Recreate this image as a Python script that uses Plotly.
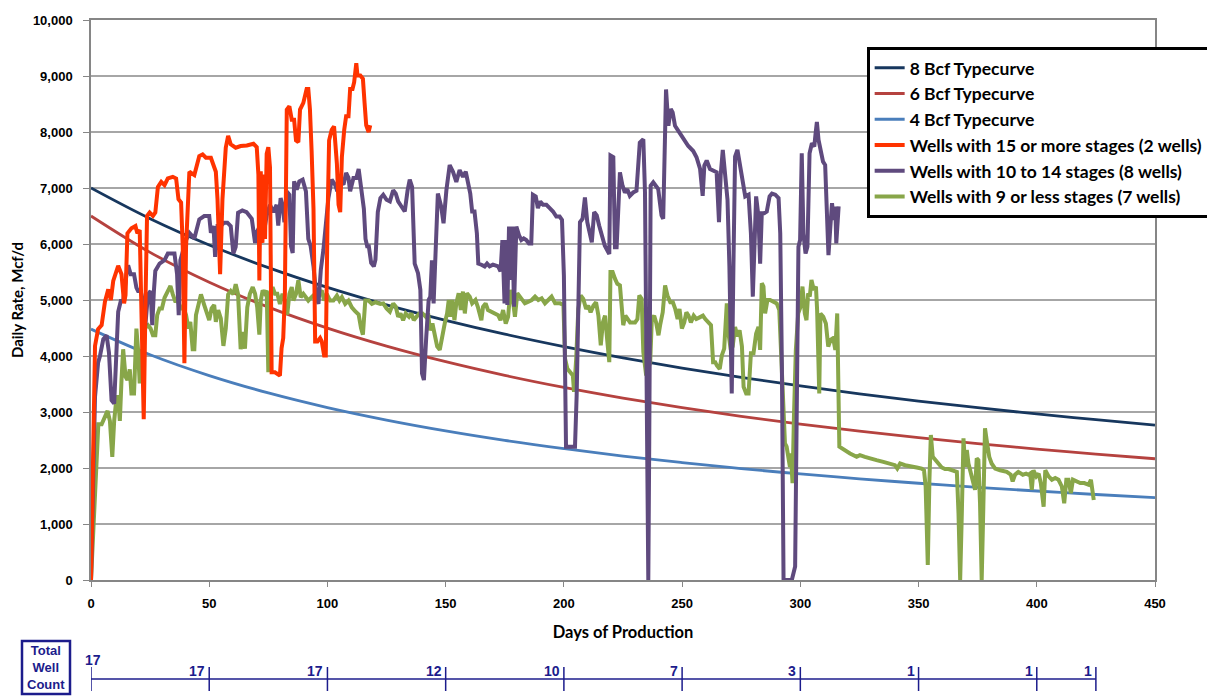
import plotly.graph_objects as go

# ---------------- data ----------------
tc_days = [0, 25, 50, 75, 100, 125, 150, 175, 200, 225, 250, 275, 300, 325, 350, 375, 400, 425, 450]
tc_8bcf = [7000, 6452, 5983, 5578, 5224, 4912, 4636, 4389, 4167, 3966, 3784, 3618, 3465, 3325, 3196, 3077, 2966, 2863, 2767]
tc_6bcf = [6500, 5850, 5317, 4873, 4498, 4177, 3898, 3654, 3439, 3248, 3077, 2923, 2784, 2657, 2542, 2435, 2338, 2248, 2165]
tc_4bcf = [4480, 4022, 3650, 3340, 3079, 2856, 2663, 2494, 2346, 2214, 2096, 1990, 1894, 1807, 1728, 1655, 1589, 1527, 1470]

red_days = [0, 1.7, 3, 4.5, 5.9, 7.3, 8.4, 9.4, 11.5, 12.9, 14, 14.6, 15.4, 17.1, 18.8, 19.6, 20.6, 21.3, 22.3, 23.1,
            23.7, 24.8, 26.2, 27.2, 28.3, 29.7, 31.1, 32.5, 34.6, 36, 37, 38.1, 38.8, 39.5, 40.2, 41.6, 43.7, 45.8,
            47.2, 48.6, 50.7, 52.8, 53.5, 54.6, 55.6, 57, 58, 59.1, 61.2, 63.3, 65.9, 68.7, 70.1, 70.8, 71.2, 71.8,
            72.5, 73.2, 73.6, 74.3, 75, 75.7, 76.4, 77.8, 79.2, 79.9, 80.6, 81.3, 82, 82.8, 83.9, 84.9, 85.9, 86.7,
            87.7, 88.4, 89.8, 91.2, 91.9, 92.6, 93.3, 94.1, 94.8, 95.8, 96.9, 97.6, 98.6, 99.3, 100, 100.7, 101.8,
            102.8, 104, 104.7, 105.4, 106.1, 107.1, 107.9, 108.9, 109.6, 110.6, 111.3, 112.2, 112.7, 113.9, 115,
            115.7, 116.4, 117.4, 118.1]
red_rate = [0, 4180, 4480, 4550, 4970, 5190, 5000, 5340, 5610, 5460, 4940, 5090, 6190, 6280, 6320, 6190, 6250, 5090, 2870, 5090,
            6500, 6560, 6500, 6560, 7020, 7110, 7050, 7170, 7200, 7170, 6800, 6740, 5950, 3870, 5950, 7290, 7230, 7570,
            7600, 7540, 7540, 7290, 6800, 5460, 6800, 7720, 7930, 7780, 7720, 7750, 7760, 7790, 7730, 7240, 5350, 7300,
            6020, 7240, 6090, 7610, 7730, 7370, 3710, 3710, 3680, 3650, 4140, 4320, 5110, 8400, 8460, 8220, 8220, 7850,
            7820, 8400, 8520, 8770, 8770, 8400, 7670, 6630, 4260, 4260, 4320, 4260, 4010, 4010, 6330, 7850, 8040,
            8100, 7430, 6700, 6570, 7550, 8040, 8280, 8280, 8770, 8770, 8890, 9230, 9010, 9010, 8950,
            8520, 8120, 8000, 8120]

purple_days = [0, 1.7, 3, 3.8, 5.2, 6.6, 7.6, 8.7, 9.8, 10.8, 11.5, 12.6, 13.6, 15, 15.7, 16.8, 18.2, 19.2, 19.9, 21, 22,
               23, 24.1, 25.2, 25.9, 26.6, 27.2, 29, 31.1, 32.5, 35.3, 36.4, 37.1, 37.8, 38.8, 40.2, 41.6, 43.7, 45.8,
               47.9, 50, 50.7, 51.8, 52.5, 53.5, 54.9, 56.3, 57.7, 59.1, 60.2, 61.2, 62.2, 64, 65.8, 68, 69.4, 70.1,
               71.5, 72.9, 74.3, 75.7, 77.1, 78.5, 79.2, 80.2, 81, 81.8, 82.8, 83.9, 84.6, 85.3, 85.9, 87, 88.1, 89.5,
               90.9, 91.9, 92.9, 94.1, 95.2, 96.2, 97.2, 98.3, 99.4, 100.4, 101.8, 103.2, 104.2, 105.4, 106.8, 107.9,
               108.9, 109.6, 111, 112.2, 113.2, 114.2, 115.4, 116.1, 116.8, 117.5, 118.5, 119.6, 120.3, 121.3, 122.4,
               123.6, 125, 126.4, 127.8, 128.9, 129.9, 131.3, 132.7, 133.9, 134.8, 135.8, 136.9, 138.3, 139.3, 140,
               140.8, 141.8, 142.8, 143.5, 144.2, 144.9, 145.8, 146.7, 148.1, 149.1, 150.3, 151.7, 153.1, 154.5,
               155.9, 157.3, 158.5, 159.4, 160.4, 161.2, 162.2, 163.2, 163.8, 165.1, 166.5, 167.5, 168.6, 170, 172.2,
               173.2, 174, 174.9, 175.4, 176.1, 176.8, 177.5, 178.2, 178.9, 179.9, 181, 182, 183, 184.1, 185.2, 186.2,
               186.9, 188.1, 189, 190, 191.2, 192.6, 194, 195.4, 196.8, 198.2, 199.2, 200, 200.9, 202.6, 204.7, 205.4,
               206.1, 206.8, 207.9, 208.9, 209.9, 211.1, 211.8, 212.8, 213.9, 214.9, 215.9, 217.3, 219.2, 219.7, 220.9,
               221.6, 222.3, 223.7, 224.8, 225.8, 226.8, 227.9, 229.3, 230.7, 232.1, 233.6, 234.3, 235, 235.7, 236.1,
               236.7, 237.8, 238.9, 239.9, 240.6, 241.3, 242, 242.8, 243.2, 244.2, 245.2, 246, 247, 248.4, 250.5,
               252.6, 254.7, 256.1, 257.6, 258.7, 259.4, 260.4, 261.8, 263.2, 264.6, 265.6, 266.3, 267.2, 268.2,
               269.2, 270, 271, 271.7, 272.4, 273.4, 274.5, 275.7, 276.7, 278.1, 279.1, 279.9, 280.6, 281.3, 282.3,
               283, 283.7, 284.7, 285.8, 287, 288, 289.4, 290.8, 291.5, 292.2, 292.9, 294.3, 296.4, 297.8, 298.5,
               299.2, 299.9, 300.6, 301.3, 302.2, 303, 303.9, 304.9, 305.9, 306.4, 307, 307.7, 308.4, 309.6, 310.5,
               311.2, 311.9, 312.7, 313.4, 314.1, 314.8, 315.2, 316.2]
purple_rate = [0, 3270, 3880, 4000, 4300, 4370, 4060, 3210, 3150, 4120, 4790, 4980, 4980, 5460, 5620, 5460, 5460, 5220, 5160, 5160, 4980,
               4550, 5100, 5160, 4550, 5160, 5520, 5650, 5710, 5830, 5830, 5460, 4730, 5710, 5890, 6070, 6200, 6100, 6440,
               6500, 6500, 6200, 6320, 5770, 6320, 6320, 6380, 6380, 6320, 5830, 5950, 6560, 6600, 6570, 6450, 6020, 6210,
               6330, 6150, 6510, 6700, 6570, 6700, 6330, 6820, 6700, 6390, 6940, 6880, 5960, 5840, 7120, 6970, 7120, 7150,
               6940, 6090, 5960, 5600, 5110, 4930, 5540, 5900, 6450, 6820, 7150, 7060, 6940, 7120, 7060, 7270,
               7180, 6940, 7180, 7180, 7340, 7060, 6630, 6090, 5960, 5960, 5660, 5600, 5720, 6570, 6820,
               6880, 6790, 6760, 6960, 6900, 6760, 6670, 6580, 6960, 7150, 7020, 5650, 5480, 5180, 3690,
               3570, 4350, 5000, 5060, 5710, 4940, 5770, 6900, 6670, 6370, 6960, 7410, 7290, 7110,
               7320, 7200, 7290, 7080, 6900, 6580, 6580, 6190, 5650, 5630, 5600, 5650, 5600, 5630, 5600,
               5510, 6070, 4940, 6070, 4910, 6310, 5360, 6310, 4880, 6310, 6160, 6070, 6100, 6070, 6010, 6010,
               6880, 6850, 6640, 6760, 6700, 6700, 6640, 6580, 6490, 6490, 6430, 5440, 2380, 2380, 2380, 3300,
               5440, 6390, 6450, 6830, 6390, 6150, 6030, 6570, 6510, 6330, 6150, 5970, 5820, 7580, 7550,
               5940, 5940, 7280, 7040, 6920, 6980, 6860, 6920, 6950, 7810, 7870, 6920, 3650, 0, 2470,
               7040, 7100, 7040, 6980, 6740, 6510, 6450, 7810, 8760, 8110, 8410, 8350, 8110, 8020, 7870,
               7750, 7660, 7550, 7340, 6860, 7400, 7490, 7340, 7310, 7280, 6390, 7220, 7680, 7260,
               6790, 5600, 3330, 5600, 7560, 7680, 7380, 7140, 6850, 6880, 6190, 5060, 6190, 6850, 6490,
               5650, 6550, 6550, 6580, 6850, 6900, 6880, 6820, 6190, 3810, 0, 0, 0, 240, 3810,
               5950, 6070, 7620, 6190, 5830, 5950, 7620, 7800, 7740, 7950, 8180, 7860, 7680, 7470, 7410,
               6790, 5800, 6310, 6730, 6430, 6670, 6010, 6670]

green_days = [0, 3.1, 4.5, 5.9, 7, 8, 9, 9.8, 10.8, 11.5, 12.2, 12.9, 13.6, 14.6, 15.4, 16.4, 17.1, 18.2, 19.2, 19.9, 20.6,
              21.6, 22.7, 24.1, 25.2, 26.2, 27.2, 28, 29, 30, 31.1, 32.5, 33.6, 34.6, 35.6, 36.7, 38.1, 39.2, 40.2, 41.2,
              42, 43, 43.7, 44.4, 45.4, 46.5, 47.9, 49, 50, 51, 52.1, 52.8, 53.8, 54.9, 56, 57, 58, 59.1, 60.2, 61.2,
              62.2, 63.3, 64.4, 65.1, 66.1, 67.2, 68.4, 69.4, 70.3, 71.2, 71.8, 72.6, 73.6, 74.3, 75, 75.7, 76.8, 77.8,
              78.8, 79.9, 81, 82, 83, 83.9, 84.9, 85.6, 86.7, 87.7, 88.7, 89.8, 90.9, 91.9, 93.3, 94.8, 96.2, 97.6,
              98.6, 99.7, 101.1, 102.5, 104, 105.1, 106.1, 107.5, 108.9, 110.3, 111.7, 113.2, 114.2, 115, 116, 117.4,
              118.8, 120.3, 122.4, 123.6, 125, 126.4, 127.8, 128.9, 129.9, 130.9, 132, 133.1, 134.5, 135.5, 136.5,
              137.7, 138.8, 140.2, 141.6, 142.6, 143.3, 144.4, 145.4, 146.4, 147.5, 148.6, 149.6, 150.6, 151.3, 152,
              152.8, 153.7, 154.5, 155.5, 156.4, 157.3, 158.1, 159, 160.2, 161.2, 162.6, 163.6, 165.1, 165.8, 166.9,
              167.9, 169.3, 170.7, 172.2, 173.2, 174.3, 175.4, 176.4, 177.4, 178.6, 179.3, 180.3, 181.4, 182.6,
              183.5, 185, 186.4, 187.8, 189.2, 190.6, 192, 193.4, 194.8, 196.3, 198.4, 199.8, 200.5, 201.5, 202.6,
              203.8, 204.3, 205.2, 206.1, 207.1, 208.2, 209.4, 210.3, 211.3, 212.5, 213.6, 214.6, 215.6, 216.5,
              217.4, 218.4, 219.2, 219.7, 220.6, 221.6, 222.6, 223.7, 224.4, 225.1, 226, 226.8, 228, 229.1, 230.1,
              231.1, 231.9, 232.9, 233.6, 234.8, 236.5, 237.2, 238.2, 239, 240, 240.7, 241.8, 242.8, 243.8, 245,
              246.1, 247.1, 248.1, 248.9, 249.9, 250.9, 251.8, 252.7, 253.7, 254.9, 256, 257.4, 258.8, 259.8, 261.2,
              262.2, 263.1, 264, 264.7, 265.9, 266.8, 267.8, 268.9, 269.6, 270.6, 271.4, 272.4, 273.4, 274.3, 275.3,
              276, 277.1, 278.1, 279.1, 280.2, 281.3, 282.3, 283, 283.7, 284.4, 285.1, 286.1, 287.2, 288.6, 290,
              291.1, 292.1, 293.5, 294.2, 294.9, 295.6, 296, 296.7, 297.3, 298.1, 299.1, 300.1, 300.9, 301.9, 302.6,
              303.3, 304, 304.7, 305.7, 306.6, 307.1, 308, 308.5, 309.7, 310.8, 311.8, 312.8, 313.9, 314.8, 315.6,
              316.5, 317.5, 318.9, 321, 323.8, 325.2, 327.3, 329.4, 332.2, 335.1, 337.9, 340, 341, 342.2, 344.3,
              346.4, 349.2, 351.3, 352.3, 353, 353.9, 354.6, 355.2, 356, 357, 358.4, 359.8, 361.2, 362.7, 364.8,
              366.2, 366.9, 367.6, 368.3, 369, 369.7, 370.4, 371.1, 371.8, 373.2, 373.9, 374.6, 375.3, 376, 376.7,
              377.4, 378.1, 378.8, 379.9, 380.9, 382.4, 384.5, 387.3, 389, 389.8, 390.8, 392.2, 394.1, 395.5, 396.5,
              397.2, 397.9, 398.6, 399.8, 400.8, 401.7, 402.9, 403.6, 405, 406.4, 407.8, 409.2, 410.6, 411.6, 412.5,
              413.4, 414.4, 415.3, 416.7, 418.4, 420.1, 421.9, 422.9, 424.1]
green_rate = [0, 2780, 2780, 2900, 3020, 2840, 2200, 2840, 3270, 3270, 2840, 3570, 4120, 3630, 3570, 3760, 3330, 3330, 4490, 4120, 3510,
              4060, 4490, 4550, 4490, 4370, 4370, 4730, 4850, 4850, 5040, 5160, 5250, 5100, 4980, 4980, 4850, 4850, 4730, 4490,
              4610, 4120, 4120, 4730, 4910, 5100, 4910, 4790, 4640, 4850, 4910, 4610, 4820, 4670, 4180, 4490, 5100, 5160, 5100, 5280,
              5100, 4120, 4430, 4130, 4870, 5110, 5230, 5110, 4870, 4380, 4990, 5170, 5110, 5170, 3710, 5110, 5230, 5110,
              5110, 4930, 5110, 4990, 4740, 5110, 5230, 4990, 5110, 5350, 5050, 5110, 5050, 4990, 5050, 5110, 5110, 5170,
              4990, 5110, 4990, 4990, 5080, 4990, 5050, 4930, 4990, 4870, 4800, 4740, 4500, 4380, 4990, 4990,
              4930, 4960, 4930, 4940, 4850, 4790, 4940, 4880, 4700, 4760, 4640, 4760, 4700, 4760, 4640,
              4700, 4760, 4760, 4700, 4760, 4460, 4580, 4400, 4170, 4110, 4400, 4580, 4760, 5000, 4700,
              5000, 4640, 4940, 5120, 4820, 5150, 4760, 5120, 5060, 4940, 5000, 4880, 4640, 4880, 4940,
              4820, 4790, 4760, 4730, 4640, 4820, 4580, 4700, 5180, 4940, 4700, 5120, 5060, 5000,
              4940, 4970, 5000, 5060, 5000, 5030, 4940, 5000, 5060, 4940, 4940, 4910, 3950, 3770, 3710,
              3650, 3360, 3950, 4840, 5080, 5020, 4840, 4900, 4780, 4900, 4960, 4720, 4190, 4600,
              4720, 4250, 3890, 5500, 5500, 5380, 5290, 5260, 4840, 4550, 4720, 4660, 4600, 4600, 4600,
              4660, 5080, 5020, 4070, 3650, 3890, 4660, 4720, 4600, 4370, 4550, 4780, 5260, 5080, 4960,
              4960, 4840, 4660, 4840, 4490, 4600, 4780, 4720, 4600, 4720, 4660, 4690, 4720, 4660, 4600,
              4550, 3890, 3890, 3830, 3770, 4010, 4130, 4940, 4400, 4110, 4170, 4520, 4350, 4460, 4170,
              3450, 3330, 3330, 4050, 4050, 4400, 4520, 4110, 5300, 5240, 4760, 5000, 5000, 4970, 4940,
              4820, 3810, 2440, 2380, 2140, 2020, 2260, 1730, 2920, 4110, 4760, 4880, 5240, 4760, 4640,
              5120, 5060, 5360, 5180, 5240, 4820, 3330, 4760, 4700, 4580, 4170, 4290, 4320, 4110, 4760,
              2380, 2350, 2320, 2260, 2200, 2230, 2200, 2170, 2140, 2110, 2080, 2050, 1990, 2080, 2050,
              2040, 2010, 1990, 1960, 1670, 270, 1790, 2590, 2200, 2140, 2080, 2010, 1980, 1980, 1960,
              1930, 1190, 0, 1190, 2530, 2020, 2320, 2080, 1960, 1790, 1610, 2170, 2140, 1370, 0,
              1310, 2710, 2500, 2200, 2080, 1990, 1960, 1930, 1880, 1760, 1880, 1930, 1880, 1900, 1880,
              1900, 1610, 1960, 1850, 1900, 1730, 1310, 1960, 1850, 1790, 1820, 1790, 1670, 1370, 1790,
              1790, 1550, 1790, 1760, 1730, 1730, 1700, 1790, 1430]

count_days = [0, 50, 100, 150, 200, 250, 300, 350, 400, 425]
count_wells = [17, 17, 17, 12, 10, 7, 3, 1, 1, 1]

series_names = ["8 Bcf Typecurve", "6 Bcf Typecurve", "4 Bcf Typecurve",
                "Wells with 15 or more stages (2 wells)", "Wells with 10 to 14 stages (8 wells)",
                "Wells with 9 or less stages (7 wells)"]

# ---------------- figure ----------------
C8, C6, C4 = "#17375E", "#B5423F", "#4A7EBB"
CRED, CPUR, CGRN = "#FF3300", "#5F4A7E", "#88A649"
NAVY = "#1C1C8C"

fig = go.Figure()
fig.add_trace(go.Scatter(x=tc_days, y=tc_8bcf, name=series_names[0], mode="lines",
                         line=dict(color=C8, width=2.8, shape="spline"), legendgroup="a"))
fig.add_trace(go.Scatter(x=tc_days, y=tc_6bcf, name=series_names[1], mode="lines",
                         line=dict(color=C6, width=2.8, shape="spline"), legendgroup="b"))
fig.add_trace(go.Scatter(x=tc_days, y=tc_4bcf, name=series_names[2], mode="lines",
                         line=dict(color=C4, width=2.8, shape="spline"), legendgroup="c"))
fig.add_trace(go.Scatter(x=green_days, y=green_rate, name=series_names[5], mode="lines",
                         line=dict(color=CGRN, width=4), legendgroup="f", showlegend=False))
fig.add_trace(go.Scatter(x=purple_days, y=purple_rate, name=series_names[4], mode="lines",
                         line=dict(color=CPUR, width=4), legendgroup="e", showlegend=False))
fig.add_trace(go.Scatter(x=red_days, y=red_rate, name=series_names[3], mode="lines",
                         line=dict(color=CRED, width=4), legendgroup="d"))
# legend entries for the noisy series in the right order
fig.add_trace(go.Scatter(x=[None], y=[None], name=series_names[4], mode="lines",
                         line=dict(color=CPUR, width=4), legendgroup="e"))
fig.add_trace(go.Scatter(x=[None], y=[None], name=series_names[5], mode="lines",
                         line=dict(color=CGRN, width=4), legendgroup="f"))

# The page adds an 8px body margin, so margins are offset by 8px.
fig.update_layout(
    width=1215, height=696,
    margin=dict(l=83, r=68, t=12, b=124, autoexpand=False),
    paper_bgcolor="white", plot_bgcolor="white",
    showlegend=True,
    legend=dict(x=0.729, y=0.952, xanchor="left", yanchor="top",
                bgcolor="white", bordercolor="#000000", borderwidth=3,
                font=dict(family="Lato, Open Sans", size=17.5, color="#000000", weight="bold"),
                tracegroupgap=0, traceorder="grouped"),
    xaxis=dict(range=[0, 450], dtick=50, tick0=0, showgrid=False,
               showline=True, linecolor="#868686", linewidth=1.5, mirror=True,
               ticks="outside", ticklen=5, tickcolor="#868686", ticklabelstandoff=6,
               tickfont=dict(family="Liberation Sans, Arial", size=13, color="#000", weight="bold"),
               title=dict(text="<b>Days of Production</b>", standoff=16,
                          font=dict(family="Lato, Open Sans", size=16.5, color="#000"))),
    yaxis=dict(range=[0, 10000], dtick=1000, tickformat=",", showgrid=True,
               gridcolor="#A6A6A6", gridwidth=1.5,
               showline=True, linecolor="#868686", linewidth=1.5, mirror=True,
               ticks="outside", ticklen=6, tickcolor="#868686", ticklabelstandoff=8,
               tickfont=dict(family="Liberation Sans, Arial", size=13, color="#000", weight="bold"),
               title=dict(text="<b>Daily Rate, Mcf/d</b>", standoff=9,
                          font=dict(family="Lato, Open Sans", size=15, color="#000"))),
)

# ---- Total well count timeline ----
def py(px):
    return (580 - px) / 560.0

shapes = []
shapes.append(dict(type="line", xref="x", yref="paper", x0=count_days[0], x1=count_days[-1],
                   y0=py(679), y1=py(679), line=dict(color=NAVY, width=1.5)))
for d in count_days:
    shapes.append(dict(type="line", xref="x", yref="paper", x0=d, x1=d,
                       y0=py(667), y1=py(691), line=dict(color=NAVY, width=1.5)))
shapes.append(dict(type="rect", xref="paper", yref="paper",
                   x0=(22 - 91) / 1064, x1=(70 - 91) / 1064, y0=py(694), y1=py(641),
                   line=dict(color=NAVY, width=2.5), fillcolor="white"))
fig.update_layout(shapes=shapes)

annotations = []
for i, (d, n) in enumerate(zip(count_days, count_wells)):
    if i == 0:
        annotations.append(dict(x=d, y=py(660), xref="x", yref="paper", text=f"<b>{n}</b>",
                                showarrow=False, xanchor="center", yanchor="middle", xshift=2,
                                font=dict(family="Liberation Sans, Arial", size=14, color=NAVY)))
    else:
        annotations.append(dict(x=d, y=py(671), xref="x", yref="paper", text=f"<b>{n}</b>",
                                showarrow=False, xanchor="right", yanchor="middle", xshift=-2,
                                font=dict(family="Liberation Sans, Arial", size=14, color=NAVY)))
annotations.append(dict(x=(46 - 91) / 1064, y=py(667.5), xref="paper", yref="paper",
                        text="<b>Total<br>Well<br>Count</b>", showarrow=False,
                        xanchor="center", yanchor="middle", align="center",
                        font=dict(family="Liberation Sans, Arial", size=13, color=NAVY)))
fig.update_layout(annotations=annotations)

fig.write_html("out.html")
